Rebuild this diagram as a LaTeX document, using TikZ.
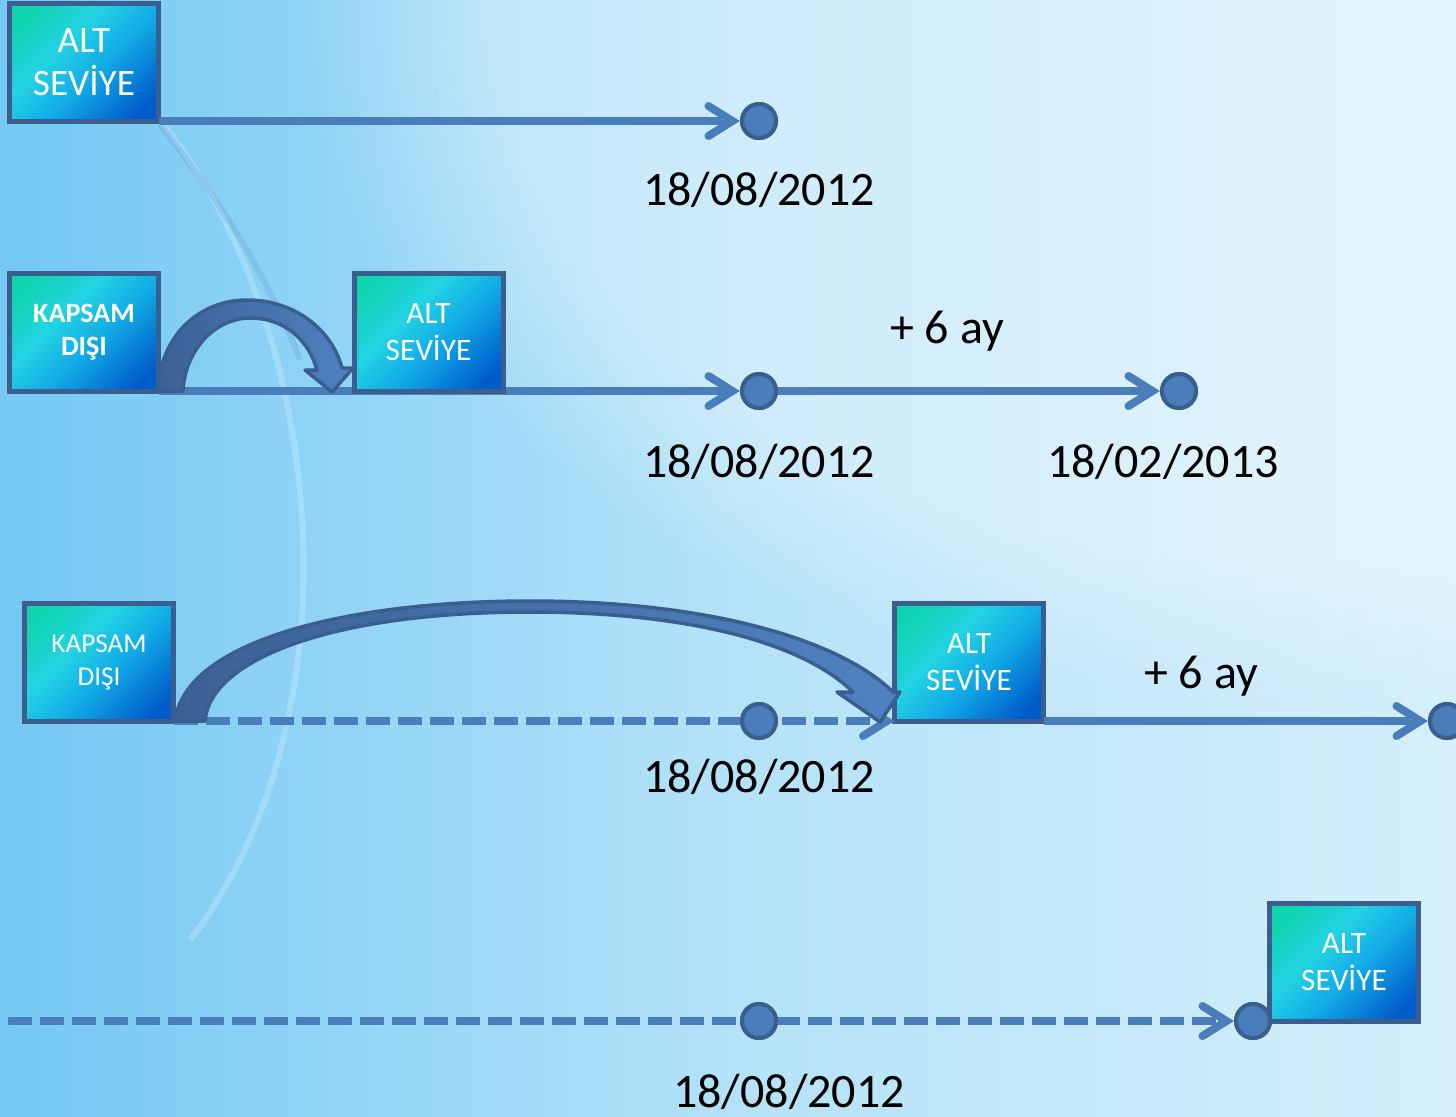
\documentclass[tikz,border=0pt]{standalone}
\usepackage{fontspec}
\setmainfont{Carlito}
\usetikzlibrary{arrows.meta,fadings}
\definecolor{lineblue}{HTML}{4A7EBB}
\definecolor{edgeblue}{HTML}{3A5E8E}
\definecolor{arrL}{HTML}{3C6196}
\definecolor{arrR}{HTML}{4F82C0}
\definecolor{bxA}{HTML}{10D4B0}
\definecolor{bxB}{HTML}{22D3E3}
\definecolor{bxC}{HTML}{12AAE6}
\definecolor{bxD}{HTML}{005CCB}
\definecolor{bgL}{HTML}{74C8F3}
\definecolor{bgM}{HTML}{B4E2F8}
\definecolor{bgR}{HTML}{D6EFFB}
\pgfdeclarehorizontalshading{boxshade}{100bp}{color(0bp)=(bxA); color(22bp)=(bxA); color(40bp)=(bxB); color(56bp)=(bxC); color(78bp)=(bxD); color(100bp)=(bxD)}
\tikzset{
  box/.style={draw=edgeblue, line width=2.5pt, shade, shading=boxshade, shading angle=-45,
    minimum width=74.5pt, minimum height=59pt, inner sep=0pt, outer sep=0pt, text=white, align=center},
  bigalt/.style={font=\fontsize{18.6}{21.5}\selectfont},
  smallalt/.style={font=\fontsize{15.6}{18.5}\selectfont},
  kapsb/.style={font=\fontsize{14}{16.5}\selectfont\bfseries},
  kapsr/.style={font=\fontsize{13.6}{16.5}\selectfont},
  dot/.style={circle, draw=edgeblue, fill=lineblue, line width=2pt, minimum size=17pt, inner sep=0pt},
  tl/.style={draw=lineblue, line width=4pt, -{Straight Barb[length=12pt,width=15pt,line cap=round]}},
  dl/.style={tl, dash pattern=on 12pt off 4pt},
  date/.style={anchor=base, font=\fontsize{24}{28}\selectfont, inner sep=0pt},
  band/.style={draw=edgeblue, line width=1.75pt, line join=round, left color=arrL, right color=arrR}
}
\begin{document}
\begin{tikzpicture}[x=0.5pt,y=-0.5pt]
\useasboundingbox (0,0) rectangle (1456,1116);
% background
\shade[left color=bgL, right color=bgR, middle color=bgM] (0,0) rectangle (1456,1116);
\fill[white, path fading=circle with fuzzy edge 20 percent, fill opacity=0.35] (1300,0) ellipse (1000 and 700);
\draw[white, opacity=0.22, line width=3pt] (160,120) .. controls (330,330) and (360,720) .. (190,940);
\draw[lineblue, opacity=0.18, line width=3pt] (160,125) .. controls (220,200) and (270,280) .. (300,360);

% boxes
\node[box, bigalt] (b1) at (84,62) {ALT\\SEVİYE};
\node[box, kapsb] (k2) at (84,332) {KAPSAM\\DIŞI};
\node[box, smallalt] (a2) at (428.5,332) {ALT\\SEVİYE};
\node[box, kapsr] (k3) at (99,662) {KAPSAM\\DIŞI};
\node[box, smallalt] (a3) at (969,662) {ALT\\SEVİYE};
\node[box, smallalt] (a4) at (1344,962) {ALT\\SEVİYE};

% dots
\node[dot] (c1) at (759,121) {};
\node[dot] (c2a) at (759,391) {};
\node[dot] (c2b) at (1179,391) {};
\node[dot] (c3a) at (759,721) {};
\node[dot] (c3b) at (1447,721) {};
\node[dot] (c4a) at (759,1021) {};
\node[dot] (c4b) at (1253,1021) {};
\coordinate (s4) at (8,1021);

% timelines
\draw[tl] (b1.south east) -- (c1.west);
\draw[tl] (k2.south east) -- (c2a.west);
\draw[tl] (c2a.east) -- (c2b.west);
\draw[dl] (k3.south east) -- (a3.south west);
\draw[tl] (a3.south east) -- (c3b.west);
\draw[dl] (s4) -- (c4b.west);

% redraw nodes on top of lines
\node[box, smallalt] at (a2) {ALT\\SEVİYE};
\node[dot] at (c1) {};
\node[dot] at (c2a) {};
\node[dot] at (c2b) {};
\node[dot] at (c3a) {};
\node[dot] at (c3b) {};
\node[dot] at (c4a) {};
\node[box, smallalt] at (a4) {ALT\\SEVİYE};
\node[dot] at (c4b) {};

% curved arrows
\path[band] (158,391) .. controls (160,335) and (200,300) .. (247,300)
  .. controls (295,300) and (332,330) .. (342,368) -- (353,368) -- (332,392) -- (305,370) -- (317,370)
  .. controls (308,338) and (283,318) .. (250,318)
  .. controls (215,318) and (185,350) .. (183,391) -- cycle;
\path[band] (175,721) .. controls (185,640) and (350,601) .. (530,601)
  .. controls (710,601) and (840,640) .. (893,692) -- (900,692) -- (880,722) -- (837,692) -- (853,692)
  .. controls (800,640) and (680,612) .. (530,612)
  .. controls (330,612) and (210,660) .. (205,721) -- cycle;

% labels
\node[date] (d1) at (759,205) {18/08/2012};
\node[date] (d2a) at (759,477) {18/08/2012};
\node[date] (d2b) at (1163,477) {18/02/2013};
\node[date] (d3) at (759,792) {18/08/2012};
\node[date] (d4) at (789,1107) {18/08/2012};
\node[date] (p2) at (947,343) {+ 6 ay};
\node[date] (p3) at (1201,688) {+ 6 ay};
\end{tikzpicture}
\end{document}
